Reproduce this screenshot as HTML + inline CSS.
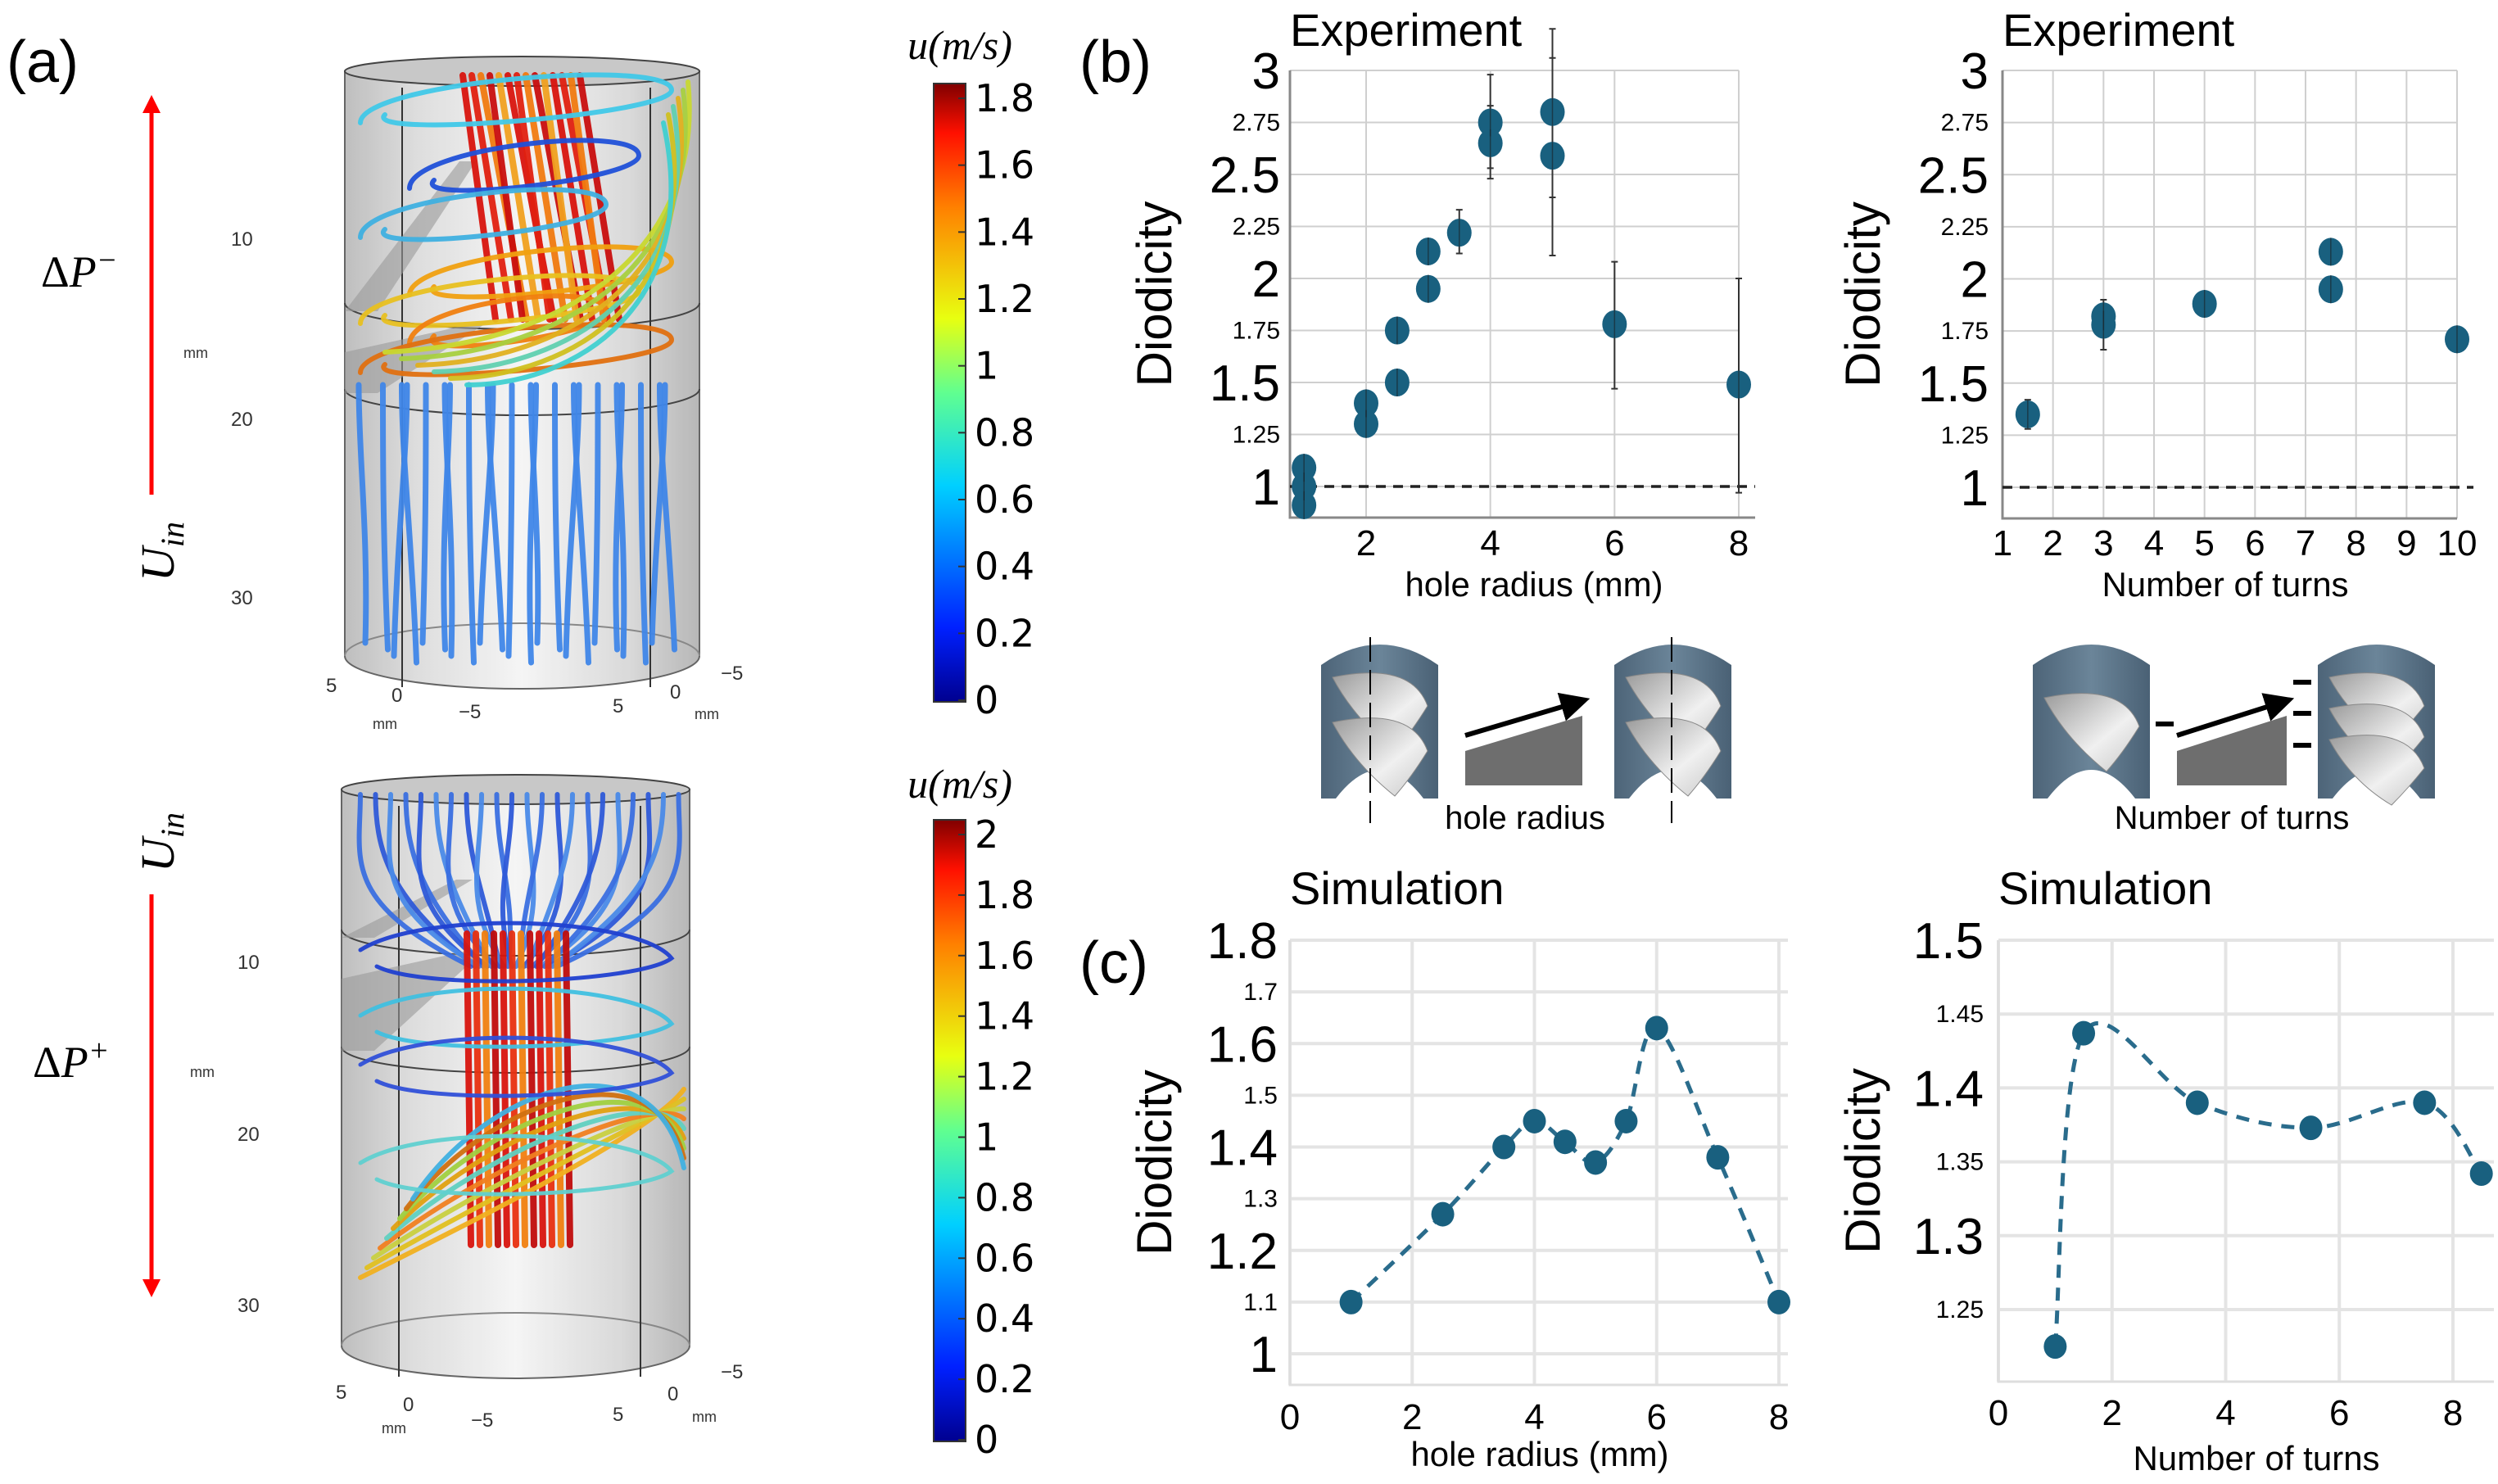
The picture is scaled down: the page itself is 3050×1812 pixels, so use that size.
<!DOCTYPE html>
<html><head><meta charset="utf-8"><title>Diodicity figure</title>
<style>
html,body{margin:0;padding:0;background:#fff;}
svg{display:block;font-family:"Liberation Sans",sans-serif;}
.cond{font-family:"Liberation Sans Narrow","Liberation Sans",sans-serif;}
</style></head>
<body>
<svg id="fig" xmlns="http://www.w3.org/2000/svg" width="3050" height="1812" viewBox="0 0 3050 1812">
<defs>
<linearGradient id="jet1" x1="0" y1="1" x2="0" y2="0">
<stop offset="0" stop-color="#00008f"/><stop offset="0.12" stop-color="#0020ff"/><stop offset="0.35" stop-color="#00d0ff"/><stop offset="0.5" stop-color="#60ff90"/><stop offset="0.62" stop-color="#e8ff10"/><stop offset="0.8" stop-color="#ff8000"/><stop offset="0.92" stop-color="#ff1000"/><stop offset="1" stop-color="#800000"/>
</linearGradient>
<linearGradient id="cylg" x1="0" y1="0" x2="1" y2="0">
<stop offset="0" stop-color="#b8b8b8"/><stop offset="0.2" stop-color="#dadada"/><stop offset="0.5" stop-color="#f4f4f4"/><stop offset="0.8" stop-color="#d6d6d6"/><stop offset="1" stop-color="#b0b0b0"/>
</linearGradient>
<linearGradient id="pipe" x1="0" y1="0" x2="1" y2="0">
<stop offset="0" stop-color="#4d6478"/><stop offset="0.5" stop-color="#6b8599"/><stop offset="1" stop-color="#4a6175"/>
</linearGradient>
<linearGradient id="blade" x1="0" y1="0" x2="1" y2="1">
<stop offset="0" stop-color="#9a9a9a"/><stop offset="0.6" stop-color="#f0f0f0"/><stop offset="1" stop-color="#c8c8c8"/>
</linearGradient>
<marker id="ah" markerWidth="6" markerHeight="6" refX="3" refY="3" orient="auto"><path d="M0,0 L6,3 L0,6 z" fill="#000"/></marker>
</defs>

<text x="8" y="100" font-size="72">(a)</text>
<text x="1318" y="100" font-size="72">(b)</text>
<text x="1318" y="1200" font-size="72">(c)</text>

<g font-family="Liberation Serif,serif" font-style="italic">
<line x1="185" y1="135" x2="185" y2="604" stroke="#f00" stroke-width="5"/>
<polygon points="174,138 196,138 185,116" fill="#f00"/>
<text x="50" y="350" font-size="54"><tspan font-style="normal">Δ</tspan>P<tspan dy="-20" font-size="38">−</tspan></text>
<text transform="translate(212,710) rotate(-90)" font-size="58">U<tspan dy="12" font-size="40">in</tspan></text>
<line x1="185" y1="1092" x2="185" y2="1565" stroke="#f00" stroke-width="5"/>
<polygon points="174,1562 196,1562 185,1584" fill="#f00"/>
<text x="40" y="1315" font-size="54"><tspan font-style="normal">Δ</tspan>P<tspan dy="-20" font-size="38">+</tspan></text>
<text transform="translate(212,1065) rotate(-90)" font-size="58">U<tspan dy="12" font-size="40">in</tspan></text>
</g>

<g id="cyls"></g>
<g id="cbars"></g>
<g id="charts"></g>
<g id="schem"></g>
</svg>

<script>
// ---------------- chart data ----------------
const expRadX  = [1, 1, 1, 2, 2, 2.5, 2.5, 3, 3, 3.5, 4, 4, 5, 5, 6, 8];
const expRadY  = [1.09, 1.0, 0.91, 1.4, 1.3, 1.75, 1.5, 2.13, 1.95, 2.22, 2.75, 2.65, 2.8, 2.59, 1.78, 1.49];
const expRadLo = [1.03, 0.95, 0.87, 1.38, 1.28, 1.73, 1.48, 2.10, 1.93, 2.12, 2.48, 2.53, 2.39, 2.11, 1.47, 0.97];
const expRadHi = [1.13, 1.05, 0.95, 1.42, 1.32, 1.77, 1.52, 2.16, 1.97, 2.33, 2.98, 2.83, 3.06, 3.20, 2.08, 2.00];

const expTurnX  = [1.5, 3, 3, 5, 7.5, 7.5, 10];
const expTurnY  = [1.35, 1.82, 1.78, 1.88, 2.13, 1.95, 1.71];
const expTurnLo = [1.28, 1.75, 1.66, 1.86, 2.11, 1.93, 1.69];
const expTurnHi = [1.42, 1.90, 1.86, 1.90, 2.15, 1.97, 1.73];

const simRadX = [1, 2.5, 3.5, 4, 4.5, 5, 5.5, 6, 7, 8];
const simRadY = [1.10, 1.27, 1.40, 1.45, 1.41, 1.37, 1.45, 1.63, 1.38, 1.10];

const simTurnX = [1, 1.5, 3.5, 5.5, 7.5, 8.5];
const simTurnY = [1.225, 1.437, 1.39, 1.373, 1.39, 1.342];

const expYTicks = [1, 1.25, 1.5, 1.75, 2, 2.25, 2.5, 2.75, 3];
const expYLabels = ["1", "1.25", "1.5", "1.75", "2", "2.25", "2.5", "2.75", "3"];
const expRadXTicks = [2, 4, 6, 8];
const expTurnXTicks = [1, 2, 3, 4, 5, 6, 7, 8, 9, 10];
const simRadYTicks = [1, 1.1, 1.2, 1.3, 1.4, 1.5, 1.6, 1.7, 1.8];
const simRadYLabels = ["1", "1.1", "1.2", "1.3", "1.4", "1.5", "1.6", "1.7", "1.8"];
const simTurnYTicks = [1.25, 1.3, 1.35, 1.4, 1.45, 1.5];
const simTurnYLabels = ["1.25", "1.3", "1.35", "1.4", "1.45", "1.5"];
const simXTicks = [0, 2, 4, 6, 8];

const cb1Labels = ["0", "0.2", "0.4", "0.6", "0.8", "1", "1.2", "1.4", "1.6", "1.8"];
const cb2Labels = ["0", "0.2", "0.4", "0.6", "0.8", "1", "1.2", "1.4", "1.6", "1.8", "2"];

// ---------------- helpers ----------------
const NS = "http://www.w3.org/2000/svg";
function mk(tag, attrs, parent) {
  const e = document.createElementNS(NS, tag);
  for (const k in attrs) e.setAttribute(k, attrs[k]);
  parent.appendChild(e);
  return e;
}
const MARK = "#19607f";

function catmull(pts) {
  let d = "M" + pts[0][0] + "," + pts[0][1];
  for (let i = 0; i < pts.length - 1; i++) {
    const p0 = pts[Math.max(0, i - 1)], p1 = pts[i], p2 = pts[i + 1], p3 = pts[Math.min(pts.length - 1, i + 2)];
    const c1x = p1[0] + (p2[0] - p0[0]) / 6, c1y = p1[1] + (p2[1] - p0[1]) / 6;
    const c2x = p2[0] - (p3[0] - p1[0]) / 6, c2y = p2[1] - (p3[1] - p1[1]) / 6;
    d += " C" + c1x + "," + c1y + " " + c2x + "," + c2y + " " + p2[0] + "," + p2[1];
  }
  return d;
}

function drawChart(c) {
  const root = document.getElementById("charts");
  const g = mk("g", {}, root);
  
  
  const sx = v => c.x0 + (v - c.xv0) * (c.x1 - c.x0) / (c.xv1 - c.xv0);
  const sy = v => c.y0 + (v - c.yv0) * (c.y1 - c.y0) / (c.yv1 - c.yv0);
  c.yTicks.forEach((t, i) => {
    const gl = mk("line", {x1: c.left, x2: c.right, y1: sy(t), y2: sy(t), stroke: c.gridColor, "stroke-width": c.gridW}, g);
    
    
    const big = c.bigTest(i);
    const tl = mk("text", {x: c.labelX, y: sy(t) + (big ? 22 : 10), "font-size": big ? 62 : 30, "text-anchor": "end", class: "cond"}, g);
    tl.textContent = c.yLabels[i];
    
    
  });
  c.xTicks.forEach(t => {
    const gl = mk("line", {x1: sx(t), x2: sx(t), y1: c.top, y2: c.bottom, stroke: c.gridColor, "stroke-width": c.gridW}, g);
    
    
    const tl = mk("text", {x: sx(t), y: c.xLabelY, "font-size": 44, "text-anchor": "middle", class: "cond"}, g);
    tl.textContent = String(t);
    
    
  });
  const ax = mk("path", {d: "M" + c.left + "," + c.top + " V" + c.bottom + " H" + (c.right + c.axExt), fill: "none", stroke: c.axisColor, "stroke-width": 3}, g);
  
  
  if (c.dashed) {
    const dl = mk("line", {x1: c.left, x2: c.right + 20, y1: sy(1), y2: sy(1), stroke: "#222", "stroke-width": 3.5, "stroke-dasharray": "12 9"}, g);
    
    
  }
  if (c.line) {
    const pts = c.xs.map((x, i) => [sx(x), sy(c.ys[i])]);
    const p = mk("path", {d: catmull(pts), fill: "none", stroke: "#2a6c8c", "stroke-width": 5, "stroke-dasharray": "16 12"}, g);
    
    
  }
  if (c.lo) {
    c.xs.forEach((x, i) => {
      const e = mk("path", {d: "M" + sx(x) + "," + sy(c.lo[i]) + " V" + sy(c.hi[i]) + " M" + (sx(x) - 4) + "," + sy(c.lo[i]) + " h8 M" + (sx(x) - 4) + "," + sy(c.hi[i]) + " h8", stroke: "#333", "stroke-width": 2, fill: "none"}, g);
      
      
    });
  }
  c.xs.forEach((x, i) => {
    const m = mk("ellipse", {cx: sx(x), cy: sy(c.ys[i]), rx: c.rx, ry: c.ry, fill: MARK}, g);
    
    
  });
  if (c.lo) {
    c.xs.forEach((x, i) => {
      const e = mk("line", {x1: sx(x), x2: sx(x), y1: sy(c.ys[i]) - c.ry, y2: sy(c.ys[i]) + c.ry, stroke: "#1a2a33", "stroke-width": 1.5, opacity: 0.7}, g);
      
      
    });
  }
  const tt = mk("text", {x: c.left, y: c.titleY, "font-size": 56, class: "cond"}, g);
  tt.textContent = c.title;
  
  
  const yl = mk("text", {transform: "translate(" + c.yTitleX + "," + ((c.top + c.bottom) / 2) + ") rotate(-90)", "font-size": 60, "text-anchor": "middle"}, g);
  yl.textContent = "Diodicity";
  
  
  const xl = mk("text", {x: c.xTitleX, y: c.xTitleY, "font-size": 42, "text-anchor": "middle", class: "cond"}, g);
  xl.textContent = c.xTitle;
  
  
}

const bigHalf = i => (expYTicks[i] * 2) % 1 === 0;

drawChart({name: "experiment-hole-radius-chart", xs: expRadX, ys: expRadY, lo: expRadLo, hi: expRadHi,
  x0: 1668, x1: 2123, xv0: 2, xv1: 8, y0: 594, y1: 86, yv0: 1, yv1: 3,
  left: 1575, right: 2123, top: 86, bottom: 632, axExt: 20,
  yTicks: expYTicks, yLabels: expYLabels, xTicks: expRadXTicks, bigTest: bigHalf,
  labelX: 1563, xLabelY: 678, gridColor: "#cfcfcf", gridW: 2, axisColor: "#888",
  rx: 15, ry: 17, dashed: true, line: false,
  title: "Experiment", titleY: 56, yTitleX: 1430, xTitle: "hole radius (mm)", xTitleX: 1873, xTitleY: 728});

drawChart({name: "experiment-turns-chart", xs: expTurnX, ys: expTurnY, lo: expTurnLo, hi: expTurnHi,
  x0: 2445, x1: 3000, xv0: 1, xv1: 10, y0: 595, y1: 86, yv0: 1, yv1: 3,
  left: 2445, right: 3000, top: 86, bottom: 633, axExt: 0,
  yTicks: expYTicks, yLabels: expYLabels, xTicks: expTurnXTicks, bigTest: bigHalf,
  labelX: 2428, xLabelY: 678, gridColor: "#cfcfcf", gridW: 2, axisColor: "#888",
  rx: 15, ry: 17, dashed: true, line: false,
  title: "Experiment", titleY: 56, yTitleX: 2295, xTitle: "Number of turns", xTitleX: 2717, xTitleY: 728});

drawChart({name: "simulation-hole-radius-chart", xs: simRadX, ys: simRadY, lo: null,
  x0: 1575, x1: 2172, xv0: 0, xv1: 8, y0: 1653, y1: 1148, yv0: 1, yv1: 1.8,
  left: 1575, right: 2183, top: 1148, bottom: 1691, axExt: 0,
  yTicks: simRadYTicks, yLabels: simRadYLabels, xTicks: simXTicks, bigTest: i => i % 2 === 0,
  labelX: 1560, xLabelY: 1745, gridColor: "#e4e4e4", gridW: 4, axisColor: "#dedede",
  rx: 14, ry: 15, dashed: false, line: true,
  title: "Simulation", titleY: 1104, yTitleX: 1430, xTitle: "hole radius (mm)", xTitleX: 1880, xTitleY: 1790});

drawChart({name: "simulation-turns-chart", xs: simTurnX, ys: simTurnY, lo: null,
  x0: 2440, x1: 2995, xv0: 0, xv1: 8, y0: 1148, y1: 1599, yv0: 1.5, yv1: 1.25,
  left: 2440, right: 3045, top: 1148, bottom: 1687, axExt: 0,
  yTicks: simTurnYTicks, yLabels: simTurnYLabels, xTicks: simXTicks, bigTest: i => i % 2 === 1,
  labelX: 2422, xLabelY: 1740, gridColor: "#e4e4e4", gridW: 4, axisColor: "#dedede",
  rx: 14, ry: 15, dashed: false, line: true,
  title: "Simulation", titleY: 1104, yTitleX: 2295, xTitle: "Number of turns", xTitleX: 2755, xTitleY: 1795});

// ---------------- colorbars ----------------
function colorbar(name, top, bottom, labels, maxv, titleY) {
  const root = document.getElementById("cbars");
  const g = mk("g", {}, root);
  
  
  const r = mk("rect", {x: 1140, y: top, width: 39, height: bottom - top, fill: "url(#jet1)", stroke: "#333", "stroke-width": 2}, g);
  
  
  const span = (bottom - 2) - (top + 18);
  labels.forEach((l, i) => {
    const v = parseFloat(l);
    const y = (bottom - 2) - v / maxv * span;
    const tk = mk("line", {x1: 1170, x2: 1179, y1: y, y2: y, stroke: "#333", "stroke-width": 2}, g);
    
    
    const t = mk("text", {x: 1190, y: y + 16, "font-size": 46, "font-family": "DejaVu Sans, sans-serif"}, g);
    t.textContent = l;
    
    
  });
  const tt = mk("text", {x: 1172, y: titleY, "font-size": 50, "text-anchor": "middle", "font-family": "Liberation Serif, serif", "font-style": "italic"}, g);
  tt.textContent = "u(m/s)";
  
  
}
colorbar("colorbar-top", 102, 857, cb1Labels, 1.8, 72);
colorbar("colorbar-bottom", 1001, 1760, cb2Labels, 2.0, 974);

// ---------------- streamline illustrations (decorative) ----------------
function cylinder(name, x0, x1, yt, yb, mid1, mid2) {
  const root = document.getElementById("cyls");
  const g = mk("g", {}, root);
  
  
  const cx = (x0 + x1) / 2, rx = (x1 - x0) / 2;
  const body = mk("path", {d: "M" + x0 + "," + yt + " V" + yb + " A" + rx + ",40 0 0 0 " + x1 + "," + yb + " V" + yt + " Z", fill: "url(#cylg)", stroke: "#555", "stroke-width": 2, opacity: 0.9}, g);
  
  
  const cap = mk("ellipse", {cx: cx, cy: yt, rx: rx, ry: 18, fill: "#c8c8c8", stroke: "#444", "stroke-width": 2}, g);
  
  
  const bot = mk("path", {d: "M" + x0 + "," + yb + " A" + rx + ",40 0 0 1 " + x1 + "," + yb, fill: "none", stroke: "#888", "stroke-width": 2}, g);
  
  
  [mid1, mid2].forEach(my => {
    const e = mk("path", {d: "M" + x0 + "," + my + " A" + rx + ",32 0 0 0 " + x1 + "," + my, fill: "none", stroke: "#444", "stroke-width": 2}, g);
    
    
  });
  [x0 + 70, x1 - 60].forEach(vx => {
    const l = mk("line", {x1: vx, x2: vx, y1: yt + 20, y2: yb + 38, stroke: "#333", "stroke-width": 2}, g);
    
    
  });
  const blade = mk("path", {d: "M" + (x0 + 140) + "," + (yt + 110) + " L" + (x0 + 160) + "," + (yt + 110) + " L" + (x0 + 40) + "," + (mid1 + 10) + " L" + x0 + "," + (mid1 + 10) + " Z M" + x0 + "," + (mid1 + 60) + " L" + (x0 + 180) + "," + (mid1 + 20) + " L" + (x0 + 40) + "," + (mid2 + 5) + " L" + x0 + "," + (mid2 + 5) + " Z", fill: "#999", opacity: 0.6}, g);
  
  
  return g;
}
function sl(g, d, color, w) {
  const p = mk("path", {d: d, fill: "none", stroke: color, "stroke-width": w || 6, "stroke-linecap": "round", opacity: 0.95}, g);
  
  
}
const gt = cylinder("streamlines-negative-flow", 421, 854, 87, 801, 370, 475);
for (let i = 0; i < 22; i++) {
  const x = 450 + i * 17.5;
  const bend = (i % 3 - 1) * 12;
  sl(gt, "M" + (x + bend) + ",470 C" + (x + bend) + ",560 " + x + ",650 " + (x + (i % 2 ? 6 : -4)) + "," + (785 + (i % 4) * 8), "#3f86e8", 7);
}
for (let i = 0; i < 14; i++) {
  const x = 565 + i * 11;
  const col = ["#d8140e", "#e02010", "#f07a10", "#c80e0e", "#f0a020"][i % 5];
  sl(gt, "M" + x + ",92 L" + (x + 40 + (i % 3) * 8) + ",390", col, 8);
}
const loops = [[110, "#40c8e8"], [190, "#2050d8"], [250, "#3fb0e0"], [320, "#f0a010"], [355, "#e8c020"], [380, "#f08010"], [415, "#e07010"]];
loops.forEach((l, i) => {
  const y = l[0], x0 = 440 + (i % 2) * 60, x1 = 820 - (i % 3) * 40;
  sl(gt, "M" + x0 + "," + (y + 40) + " C" + x0 + "," + (y - 10) + " " + x1 + "," + (y - 40) + " " + x1 + "," + y + " C" + x1 + "," + (y + 30) + " " + x0 + "," + (y + 60) + " " + (x0 + 30) + "," + (y + 30), l[1], 6);
});
for (let i = 0; i < 6; i++) {
  const col = ["#c8d830", "#a8d040", "#e0b020", "#60d0b0", "#d0c020", "#40d0d0"][i];
  sl(gt, "M" + (840 - i * 6) + "," + (100 + i * 10) + " C" + (860) + "," + (300 + i * 15) + " " + (700) + "," + (420 + i * 10) + " " + (470 + i * 20) + "," + (430 + i * 8), col, 6);
}
const gb = cylinder("streamlines-positive-flow", 417, 842, 964, 1643, 1135, 1278);
for (let i = 0; i < 22; i++) {
  const x = 440 + i * 18.5;
  const w = (i % 2 ? 25 : -25);
  sl(gb, "M" + x + ",970 C" + x + ",1050 " + (x + w) + ",1100 " + (630 + (i - 11) * 5) + ",1180", ["#3a6fe0", "#2e5ad8", "#4a8ae8"][i % 3], 6);
}
for (let i = 0; i < 12; i++) {
  const x = 570 + i * 11;
  sl(gb, "M" + x + ",1140 L" + (x + 5) + ",1520", ["#d8140e", "#e83010", "#f08010", "#c00c0c"][i % 4], 8);
}
for (let i = 0; i < 9; i++) {
  const col = ["#f0b020", "#e0c020", "#c8d040", "#f08020", "#60d0c0", "#e0a010", "#a0d040", "#d07010", "#40b0e0"][i];
  sl(gb, "M" + (440 + i * 8) + "," + (1560 - i * 12) + " C" + (600) + "," + (1480 - i * 20) + " " + (800) + "," + (1380 - i * 15) + " " + (835) + "," + (1330 + i * 12), col, 6);
}
[[1160, "#2040d0"], [1240, "#40c0e0"], [1300, "#3050d8"], [1420, "#60d0d0"]].forEach((l, i) => {
  sl(gb, "M440," + l[0] + " C520," + (l[0] - 50) + " 780," + (l[0] - 40) + " 820," + (l[0] + 10) + " C780," + (l[0] + 40) + " 520," + (l[0] + 50) + " 460," + (l[0] + 20), l[1], 5);
});
const axLab = [[282, 300, "10"], [282, 520, "20"], [282, 738, "30"], [224, 437, "mm"], [290, 1183, "10"], [290, 1393, "20"], [290, 1602, "30"], [232, 1315, "mm"],
  [398, 845, "5"], [478, 857, "0"], [560, 877, "−5"], [748, 870, "5"], [818, 853, "0"], [880, 830, "−5"], [455, 890, "mm"], [848, 878, "mm"],
  [410, 1708, "5"], [492, 1723, "0"], [575, 1742, "−5"], [748, 1735, "5"], [815, 1710, "0"], [880, 1683, "−5"], [466, 1750, "mm"], [845, 1736, "mm"]];
axLab.forEach(a => {
  const t = mk("text", {x: a[0], y: a[1], "font-size": a[2] === "mm" ? 18 : 24, fill: "#333"}, document.getElementById("cyls"));
  t.textContent = a[2];
  
  
});

// ---------------- schematics ----------------
function pipe(x, yt, yb, name, nb) {
  const s = document.getElementById("schem");
  const g = mk("g", {}, s);
  
  
  const w = 143;
  const p = mk("path", {d: "M" + x + "," + (yt + 30) + " Q" + (x + w / 2) + "," + (yt - 20) + " " + (x + w) + "," + (yt + 30) + " V" + yb + " h-18 Q" + (x + w / 2) + "," + (yb - 70) + " " + (x + 18) + "," + yb + " h-18 Z", fill: "url(#pipe)"}, g);
  
  
  const step = nb > 2 ? 38 : 55;
  const bh = nb > 2 ? 80 : 90;
  for (let i = 0; i < nb; i++) {
    const y = yt + (nb === 1 ? 70 : 45) + i * step;
    const b = mk("path", {d: "M" + (x + 14) + "," + y + " Q" + (x + 110) + "," + (y - 20) + " " + (x + 130) + "," + (y + 35) + " Q" + (x + 110) + "," + (y + bh * 0.75) + " " + (x + 90) + "," + (y + bh) + " Q" + (x + 40) + "," + (y + 50) + " " + (x + 14) + "," + y + " Z", fill: "url(#blade)", stroke: "#888", "stroke-width": 1}, g);
    
    
  }
}
pipe(1613, 782, 975, "pipe-small-hole", 2);
pipe(1971, 782, 975, "pipe-large-hole", 2);
pipe(2482, 782, 975, "pipe-one-turn", 1);
pipe(2830, 782, 975, "pipe-three-turns", 3);
[1673, 2041].forEach(x => {
  const l = mk("line", {x1: x, x2: x, y1: 778, y2: 1005, stroke: "#000", "stroke-width": 2, "stroke-dasharray": "30 10"}, document.getElementById("schem"));
  
  
});
[[1789, 1932], [2658, 2792]].forEach(r => {
  const s = document.getElementById("schem");
  const t = mk("polygon", {points: r[0] + ",959 " + r[1] + ",959 " + r[1] + ",874 " + r[0] + ",917", fill: "#6e6e6e"}, s);
  
  
  const a = mk("line", {x1: r[0], y1: 898, x2: r[1] - 8, y2: 858, stroke: "#000", "stroke-width": 6, "marker-end": "url(#ah)"}, s);
  
  
});
[[2632, 881], [2800, 830], [2800, 868], [2800, 907]].forEach(d => {
  const r = mk("rect", {x: d[0], y: d[1], width: 22, height: 6, fill: "#000"}, document.getElementById("schem"));
  
  
});
[["hole radius", 1862], ["Number of turns", 2725]].forEach(l => {
  const t = mk("text", {x: l[1], y: 1012, "font-size": 40, "text-anchor": "middle", class: "cond"}, document.getElementById("schem"));
  t.textContent = l[0];
  
  
});
</script>
</body></html>
